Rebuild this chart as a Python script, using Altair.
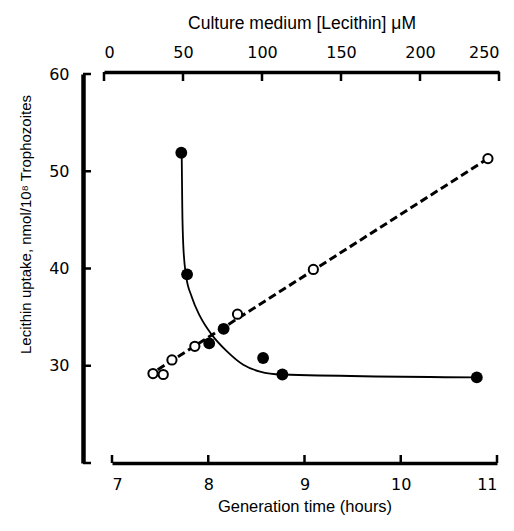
import altair as alt
import pandas as pd

# Filled circles: generation time (bottom axis) vs lecithin uptake
gen_time = [7.72, 7.78, 8.01, 8.16, 8.57, 8.77, 10.79]
uptake_filled = [51.9, 39.4, 32.3, 33.8, 30.8, 29.1, 28.8]

# Smooth fitted curve through the filled-circle series
curve_gen = [7.724, 7.730, 7.741, 7.769, 7.828, 7.914, 8.036, 8.192, 8.364, 8.538, 8.763, 10.789]
curve_uptake = [51.9, 46.4, 42.3, 39.3, 37.1, 35.1, 33.2, 31.5, 30.1, 29.4, 29.1, 28.8]

# Open circles: culture medium lecithin concentration (top axis) vs uptake
conc = [31, 37.5, 43, 57.5, 84.5, 132.5, 243]
uptake_open = [29.2, 29.1, 30.6, 32.0, 35.3, 39.9, 51.3]

# Dashed regression line for open circles (end points)
line_conc = [34, 243]
line_uptake = [29.6, 51.3]

# Tick values
gen_ticks = [7, 8, 9, 10, 11]
conc_ticks = [0, 50, 100, 150, 200, 250]
uptake_ticks = [20, 30, 40, 50, 60]
uptake_labels = [30, 40, 50, 60]

W, H = 395, 389
LABEL_FONT = "DejaVu Sans"
TITLE_FONT = "Liberation Sans"

filled_df = pd.DataFrame({"gen": gen_time, "uptake": uptake_filled})
curve_df = pd.DataFrame({"gen": curve_gen, "uptake": curve_uptake})
open_df = pd.DataFrame({"conc": conc, "uptake": uptake_open})
line_df = pd.DataFrame({"conc": line_conc, "uptake": line_uptake})
gen_tick_df = pd.DataFrame({"gen": gen_ticks})
conc_tick_df = pd.DataFrame({"conc": conc_ticks})
upt_tick_df = pd.DataFrame({"uptake": uptake_ticks})

yscale = alt.Scale(domain=[20, 60], nice=False, zero=False)
yaxis = alt.Axis(
    values=uptake_labels, offset=21, domainWidth=4.5, domainColor="black",
    tickSize=0, labelPadding=14, labelFont=LABEL_FONT, labelFontSize=16,
    labelColor="black", grid=False,
    title="Lecithin uptake, nmol/10⁸ Trophozoites",
    titleFont=TITLE_FONT, titleFontSize=15, titleFontWeight="normal",
    titleColor="black", titleX=-58, titleY=150, titleAngle=270,
    titleAlign="center", titleBaseline="middle",
)
Y = alt.Y("uptake:Q", scale=yscale, axis=yaxis)

gen_scale = alt.Scale(domain=[7, 11], range=[8, 393], nice=False, zero=False)
gen_axis = alt.Axis(
    orient="bottom", values=gen_ticks, domainWidth=3.5, domainColor="black",
    tickSize=0, labelPadding=13, labelFont=LABEL_FONT, labelFontSize=16,
    labelColor="black", grid=False,
    title="Generation time (hours)", titleFont=TITLE_FONT, titleFontSize=16.5,
    titleFontWeight="normal", titleColor="black", titlePadding=6,
)
XG = alt.X("gen:Q", scale=gen_scale, axis=gen_axis)

conc_scale = alt.Scale(domain=[0, 250], range=[0, 395], nice=False, zero=False)
conc_axis = alt.Axis(
    orient="top", values=conc_ticks, offset=2, domainWidth=3.5, domainColor="black",
    tickSize=0, labelPadding=12, labelFont=LABEL_FONT, labelFontSize=16,
    labelColor="black", grid=False,
    title="Culture medium [Lecithin]  μM", titleFont=TITLE_FONT, titleFontSize=17.5,
    titleFontWeight="normal", titleColor="black", titlePadding=12,
)
XC = alt.X("conc:Q", scale=conc_scale, axis=conc_axis)

curve = alt.Chart(curve_df).mark_line(
    color="black", strokeWidth=1.8, interpolate="monotone"
).encode(x=XG, y=Y)

filled = alt.Chart(filled_df).mark_point(
    shape="circle", filled=True, color="black", size=140, opacity=1
).encode(x=XG, y=Y)

gen_tick_marks = alt.Chart(gen_tick_df).mark_rule(
    color="black", strokeWidth=2.5
).encode(x=XG, y=alt.value(H), y2=alt.value(H - 8))

upt_tick_marks = alt.Chart(upt_tick_df).mark_rule(
    color="black", strokeWidth=2.5
).encode(y=Y, x=alt.value(-21), x2=alt.value(-13))

dashed = alt.Chart(line_df).mark_line(
    color="black", strokeWidth=3, strokeDash=[8, 4]
).encode(x=XC, y=Y)

open_pts = alt.Chart(open_df).mark_point(
    shape="circle", filled=False, fill="white", stroke="black",
    strokeWidth=2, size=85, opacity=1, fillOpacity=1
).encode(x=XC, y=Y)

conc_tick_marks = alt.Chart(conc_tick_df).mark_rule(
    color="black", strokeWidth=2.5
).encode(x=XC, y=alt.value(-2), y2=alt.value(7))

gen_layer = alt.layer(curve, gen_tick_marks, upt_tick_marks, filled)
conc_layer = alt.layer(dashed, conc_tick_marks, open_pts)

chart = alt.layer(conc_layer, gen_layer).resolve_scale(
    x="independent"
).properties(
    width=W, height=H,
    autosize=alt.AutoSizeParams(type="none"),
    padding={"left": 104, "top": 74, "right": 15, "bottom": 68},
    background="white",
).configure_view(stroke=None)

chart.save("out.html", embed_options={"renderer": "svg", "actions": False})
